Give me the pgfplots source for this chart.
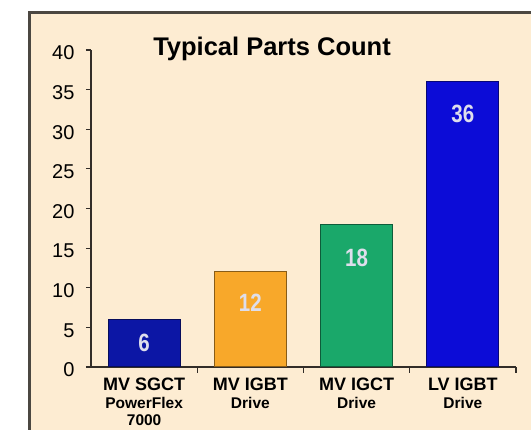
\documentclass[border=0pt]{standalone}
\usepackage{pgfplots}
\pgfplotsset{compat=1.18}
\usepackage{fontspec}
\setmainfont{Liberation Sans}
\newfontfamily\condfont[FakeStretch=0.82]{Liberation Sans}
\definecolor{bgcream}{RGB}{253,236,210}
\definecolor{framegray}{RGB}{75,71,65}
\definecolor{axisgray}{RGB}{50,45,40}
\definecolor{cnavy}{RGB}{12,22,165}
\definecolor{corange}{RGB}{248,168,42}
\definecolor{cgreen}{RGB}{26,168,106}
\definecolor{cblue}{RGB}{12,12,215}
\definecolor{labelcol}{RGB}{222,222,236}
\begin{document}
\begin{tikzpicture}
\path[use as bounding box] (0,0) rectangle (531pt,430pt);
\clip (0,0) rectangle (531pt,430pt);
\fill[white] (0,0) rectangle (531pt,430pt);
\fill[bgcream] (29pt,-10pt) rectangle (545pt,417pt);
\draw[framegray, line width=3pt] (29pt,-10pt) -- (29pt,417pt) -- (545pt,417pt);
\begin{axis}[
  at={(91pt,63pt)}, anchor=south west,
  scale only axis, width=425pt, height=317pt,
  xmin=-0.5, xmax=3.5, ymin=0, ymax=40,
  axis lines*=left,
  axis line style={-, line width=1.2pt, color=axisgray},
  tick align=outside,
  ytick={0,5,...,40},
  y tick style={line width=1.2pt, color=axisgray},
  major tick length=5pt,
  minor tick length=6pt,
  /pgf/number format/assume math mode=true,
  y tick label style={font=\fontsize{20}{20}\selectfont, xshift=-8pt, yshift=-3pt},
  xtick={0,1,2,3},
  major x tick style={draw=none},
  minor xtick={0.5,1.5,2.5,3.5},
  minor x tick style={line width=1.2pt, color=axisgray},
  xticklabels={
    {MV SGCT\\{\fontsize{15.5}{17.5}\selectfont PowerFlex}\\{\fontsize{15.5}{17.5}\selectfont 7000}},
    {MV IGBT\\{\fontsize{15.5}{17.5}\selectfont Drive}},
    {MV IGCT\\{\fontsize{15.5}{17.5}\selectfont Drive}},
    {LV IGBT\\{\fontsize{15.5}{17.5}\selectfont Drive}}},
  x tick label style={align=center, font=\bfseries\fontsize{18}{17.5}\selectfont, inner sep=0pt, yshift=-6pt},
  title={Typical Parts Count},
  title style={at={(0.426,1)}, anchor=base, yshift=-12pt, font=\fontsize{25.5}{25.5}\selectfont\bfseries, inner sep=0pt},
  every node near coord/.append style={anchor=south, inner sep=0pt, font=\condfont\fontsize{25}{25}\selectfont\bfseries, text=labelcol},
]
\addplot[ybar, bar shift=0pt, bar width=72pt, fill=cnavy, draw=cnavy!55!black, line width=1pt,
  nodes near coords, every node near coord/.append style={yshift=-33pt}] coordinates {(0,6)};
\addplot[ybar, bar shift=0pt, bar width=72pt, fill=corange, draw=corange!55!black, line width=1pt,
  nodes near coords, every node near coord/.append style={yshift=-40pt}] coordinates {(1,12)};
\addplot[ybar, bar shift=0pt, bar width=72pt, fill=cgreen, draw=cgreen!55!black, line width=1pt,
  nodes near coords, every node near coord/.append style={yshift=-43pt}] coordinates {(2,18)};
\addplot[ybar, bar shift=0pt, bar width=72pt, fill=cblue, draw=cblue!55!black, line width=1pt,
  nodes near coords, every node near coord/.append style={yshift=-42pt}] coordinates {(3,36)};
\end{axis}
\end{tikzpicture}
\end{document}
